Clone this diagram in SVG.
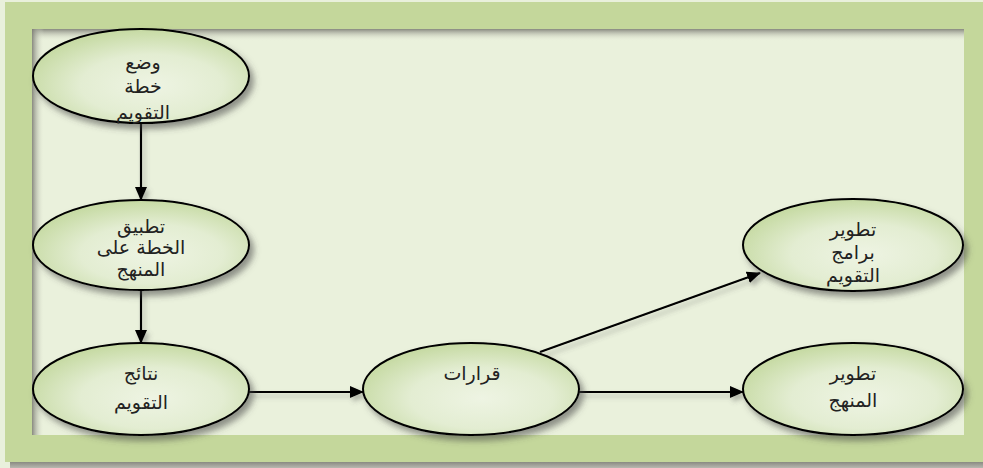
<svg xmlns="http://www.w3.org/2000/svg" width="983" height="468" viewBox="0 0 983 468">
<style>
.node ellipse{fill:url(#eg);stroke:#000;stroke-width:2;filter:url(#sh)}
.node text{font-family:"DejaVu Sans","Noto Sans",sans-serif;font-size:19px;fill:#222;text-anchor:middle}
.conn line{stroke:#000;stroke-width:2.2;marker-end:url(#ah)}
</style>
<defs>
<radialGradient id="eg" cx="0.55" cy="0.6" r="0.6">
<stop offset="0" stop-color="#eef4e3"/>
<stop offset="0.55" stop-color="#e3edd2"/>
<stop offset="1" stop-color="#c6daa3"/>
</radialGradient>
<filter id="sh" x="-20%" y="-20%" width="150%" height="150%">
<feDropShadow dx="4" dy="5" stdDeviation="3" flood-color="#444" flood-opacity="0.55"/>
</filter>
<filter id="lsh" filterUnits="userSpaceOnUse" x="0" y="0" width="983" height="468">
<feDropShadow dx="3" dy="4" stdDeviation="2.5" flood-color="#555" flood-opacity="0.4"/>
</filter>
<marker id="ah" markerWidth="14" markerHeight="12" refX="13" refY="6" orient="auto" markerUnits="userSpaceOnUse">
<path d="M0,0 L14,6 L0,12 Z" fill="#000"/>
</marker>
<linearGradient id="tsh" x1="0" y1="0" x2="0" y2="1">
<stop offset="0" stop-color="#7d7d75" stop-opacity="0.9"/>
<stop offset="1" stop-color="#eaf1dc" stop-opacity="0"/>
</linearGradient>
<linearGradient id="lsg" x1="0" y1="0" x2="1" y2="0">
<stop offset="0" stop-color="#7d7d75" stop-opacity="0.9"/>
<stop offset="1" stop-color="#eaf1dc" stop-opacity="0"/>
</linearGradient>
<linearGradient id="bsh" x1="0" y1="0" x2="0" y2="1">
<stop offset="0" stop-color="#8a8a82"/>
<stop offset="1" stop-color="#b8b8b0"/>
</linearGradient>
</defs>
<rect x="0" y="0" width="983" height="468" fill="#e9f0dc"/>
<rect x="10" y="462" width="973" height="6" fill="url(#bsh)"/>
<rect x="5" y="2" width="978" height="460" fill="#c4d79b"/>
<rect x="32" y="29" width="932" height="406" fill="#eaf1dc"/>
<rect x="32" y="29" width="932" height="12" fill="url(#tsh)"/>
<rect x="32" y="29" width="12" height="406" fill="url(#lsg)"/>
<g class="conn" filter="url(#lsh)">
<line x1="141" y1="123" x2="141" y2="200"/>
<line x1="141" y1="290" x2="141" y2="343"/>
<line x1="249" y1="392" x2="363" y2="392"/>
<line x1="579" y1="392" x2="743" y2="392"/>
<line x1="540" y1="352" x2="760" y2="273"/>
</g>
<g id="n1" class="node">
<ellipse cx="141" cy="76" rx="108" ry="47"/>
<text x="143" y="69">وضع</text>
<text x="143" y="93">خطة</text>
<text x="143" y="119">التقويم</text>
</g>
<g id="n2" class="node">
<ellipse cx="141" cy="245" rx="108" ry="45"/>
<text x="141" y="233">تطبيق</text>
<text x="141" y="254">الخطة على</text>
<text x="141" y="276">المنهج</text>
</g>
<g id="n3" class="node">
<ellipse cx="141" cy="389" rx="108" ry="46"/>
<text x="141" y="380">نتائج</text>
<text x="141" y="409">التقويم</text>
</g>
<g id="n4" class="node">
<ellipse cx="471" cy="389" rx="108" ry="46"/>
<text x="472" y="380">قرارات</text>
</g>
<g id="n5" class="node">
<ellipse cx="853" cy="245" rx="110" ry="46"/>
<text x="853" y="236">تطوير</text>
<text x="853" y="259">برامج</text>
<text x="853" y="282">التقويم</text>
</g>
<g id="n6" class="node">
<ellipse cx="853" cy="389" rx="110" ry="46"/>
<text x="853" y="380">تطوير</text>
<text x="853" y="407">المنهج</text>
</g>
</svg>
